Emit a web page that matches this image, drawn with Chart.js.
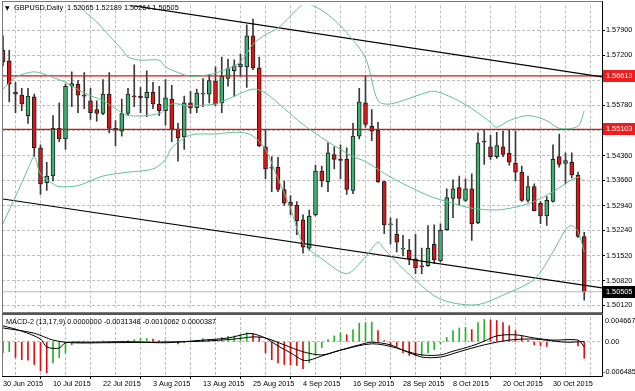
<!DOCTYPE html>
<html lang="en">
<head>
<meta charset="UTF-8">
<title>GBPUSD Daily</title>
<script src="https://cdn.jsdelivr.net/npm/chart.js"></script>
<style>
  html, body { margin: 0; padding: 0; background: #fff; }
  #wrap { position: relative; width: 635px; height: 391px; overflow: hidden; background: #fff; }
  #priceCanvas { position: absolute; left: 0; top: 0; }
  #macdCanvas { position: absolute; left: 0; top: 313px; }
</style>
</head>
<body>
<div id="wrap">
  <canvas id="priceCanvas" width="635" height="313"></canvas>
  <canvas id="macdCanvas" width="635" height="78"></canvas>
</div>
<script>
// bar index 0 = 30 Jun 2015, one bar per trading day
const dateBars = [0, 8, 16, 24, 32, 40, 48, 56, 64, 72, 80, 88];
const dateLabels = ['30 Jun 2015', '10 Jul 2015', '22 Jul 2015', '3 Aug 2015', '13 Aug 2015', '25 Aug 2015',
  '4 Sep 2015', '16 Sep 2015', '28 Sep 2015', '8 Oct 2015', '20 Oct 2015', '30 Oct 2015'];

const opens = [1.5734,1.5704,1.5615,1.5607,1.5549,1.5602,1.5458,1.5359,1.5378,1.5513,
  1.5483,1.5632,1.5638,1.5607,1.5591,1.5566,1.5555,1.5610,1.5513,1.5505,
  1.5555,1.5604,1.5604,1.5599,1.5615,1.5582,1.5563,1.5596,1.5511,1.5489,
  1.5585,1.5571,1.5610,1.5610,1.5646,1.5585,1.5654,1.5676,1.5687,1.5687,
  1.5775,1.5684,1.5461,1.5400,1.5403,1.5340,1.5304,1.5295,1.5254,1.5174,
  1.5268,1.5392,1.5362,1.5439,1.5425,1.5425,1.5337,1.5491,1.5585,1.5519,
  1.5508,1.5362,1.5240,1.5213,1.5171,1.5168,1.5144,1.5122,1.5124,1.5185,
  1.5138,1.5226,1.5315,1.5345,1.5309,1.5342,1.5246,1.5475,1.5461,1.5433,
  1.5461,1.5442,1.5414,1.5389,1.5309,1.5348,1.5301,1.5265,1.5306,1.5433,
  1.5414,1.5417,1.5381,1.52065];
const highs = [1.5775,1.5734,1.5643,1.5626,1.5626,1.5610,1.5466,1.5417,1.5549,1.5585,
  1.5638,1.5673,1.5648,1.5671,1.5626,1.5591,1.5651,1.5671,1.5535,1.5596,
  1.5626,1.5693,1.5629,1.5676,1.5643,1.5632,1.5651,1.5635,1.5527,1.5604,
  1.5618,1.5624,1.5654,1.5665,1.5687,1.5715,1.5709,1.5707,1.5723,1.5806,
  1.5822,1.5715,1.5508,1.5433,1.5431,1.5364,1.5323,1.5306,1.5268,1.5282,
  1.5409,1.5406,1.5472,1.5461,1.5466,1.5458,1.5527,1.5626,1.5660,1.5566,
  1.5530,1.5364,1.5260,1.5257,1.5210,1.5199,1.5213,1.5174,1.5238,1.5240,
  1.5243,1.5342,1.5367,1.5378,1.5370,1.5384,1.5500,1.5508,1.5494,1.5502,
  1.5505,1.5508,1.5505,1.5406,1.5378,1.5356,1.5306,1.5320,1.5466,1.5497,
  1.5444,1.5444,1.5389,1.52189];
const lows = [1.5690,1.5588,1.5557,1.5563,1.5527,1.5433,1.5326,1.5337,1.5364,1.5475,
  1.5453,1.5574,1.5557,1.5569,1.5538,1.5533,1.5552,1.5500,1.5464,1.5491,
  1.5549,1.5574,1.5557,1.5546,1.5569,1.5549,1.5522,1.5475,1.5420,1.5453,
  1.5555,1.5557,1.5574,1.5585,1.5577,1.5557,1.5632,1.5604,1.5660,1.5629,
  1.5679,1.5461,1.5370,1.5334,1.5334,1.5295,1.5268,1.5212,1.5160,1.5168,
  1.5265,1.5348,1.5334,1.5398,1.5370,1.5326,1.5328,1.5483,1.5516,1.5478,
  1.5360,1.5215,1.5185,1.5163,1.5152,1.5127,1.5102,1.5102,1.5122,1.5130,
  1.5135,1.5224,1.5260,1.5295,1.5306,1.5196,1.5243,1.5411,1.5425,1.5428,
  1.5433,1.5409,1.5364,1.5306,1.5304,1.5279,1.5243,1.5238,1.5304,1.5403,
  1.5356,1.5373,1.5204,1.50264];
const closes = [1.5701,1.5638,1.5610,1.5582,1.5604,1.5458,1.5356,1.5378,1.5513,1.5483,
  1.5632,1.5640,1.5607,1.5604,1.5557,1.5555,1.5610,1.5513,1.5508,1.5555,
  1.5610,1.5602,1.5599,1.5615,1.5582,1.5563,1.5599,1.5511,1.5486,1.5585,
  1.5571,1.5613,1.5611,1.5648,1.5582,1.5660,1.5682,1.5690,1.5695,1.5775,
  1.5684,1.5464,1.5398,1.5401,1.5340,1.5301,1.5295,1.5251,1.5177,1.5265,
  1.5392,1.5364,1.5444,1.5425,1.5422,1.5340,1.5491,1.5588,1.5524,1.5505,
  1.5362,1.5240,1.5241,1.5191,1.5172,1.5144,1.5119,1.5121,1.5174,1.5141,
  1.5224,1.5317,1.5342,1.5315,1.5342,1.5243,1.5472,1.5474,1.5433,1.5464,
  1.5439,1.5417,1.5389,1.5309,1.5348,1.5280,1.5265,1.5309,1.5425,1.5411,
  1.5422,1.5381,1.5207,1.50505];

// Bollinger bands, read at selected bars
const bbUpperBars = [10, 13, 15, 17, 19, 20, 22, 25, 26, 28, 30, 33, 36, 38, 40, 42, 44, 46, 48, 49, 51, 53, 55, 58, 60, 62, 67, 69, 72, 75, 78, 79, 81, 84, 87, 89, 92, 93];
const bbUpper = [1.5905, 1.5845, 1.5814, 1.5775, 1.5737, 1.5715, 1.5706, 1.5706, 1.5687, 1.5671, 1.5660, 1.5665, 1.5682, 1.5701, 1.5751, 1.5778, 1.5797, 1.5831, 1.5864, 1.5864, 1.5847, 1.5820, 1.5784, 1.5712, 1.5591, 1.5582, 1.5610, 1.5618, 1.5599, 1.5569, 1.5530, 1.5516, 1.5535, 1.5549, 1.5535, 1.5513, 1.5519, 1.5563];
const bbMidBars = [0, 2, 5, 8, 10, 13, 16, 18, 20, 25, 27, 30, 34, 36, 40, 42, 45, 48, 52, 56, 58, 62, 68, 72, 75, 79, 82, 85, 88, 92, 93];
const bbMid = [1.5624, 1.5657, 1.5673, 1.5657, 1.5643, 1.5613, 1.5591, 1.5569, 1.5549, 1.5555, 1.5582, 1.5577, 1.5582, 1.5596, 1.5624, 1.5613, 1.5569, 1.5524, 1.5475, 1.5433, 1.5419, 1.5375, 1.5323, 1.5301, 1.5287, 1.5282, 1.5290, 1.5306, 1.5334, 1.5375, 1.5362];
const bbLowBars = [0, 1, 2, 4, 5, 6, 8, 9, 12, 16, 20, 24, 26, 27, 30, 34, 38, 40, 42, 44, 46, 48, 51, 55, 58, 60, 61, 64, 69, 72, 76, 80, 85, 88, 90, 91, 92, 93];
const bbLow = [1.5243, 1.5282, 1.5320, 1.5398, 1.5433, 1.5384, 1.5356, 1.5348, 1.5351, 1.5378, 1.5389, 1.5398, 1.5425, 1.5458, 1.5494, 1.5497, 1.5502, 1.5491, 1.5453, 1.5370, 1.5287, 1.5188, 1.5144, 1.5102, 1.5149, 1.5191, 1.5171, 1.5116, 1.5039, 1.5019, 1.5014, 1.5041, 1.5086, 1.5163, 1.5226, 1.5238, 1.5221, 1.5163];

// channel lines (end points) and horizontal levels
const channelBars = [0, 96];
const channelTop = [1.5916, 1.5658];
const channelBottom = [1.5313, 1.5061];
const levels = [1.56613, 1.55103];
const bidPrice = 1.50505;
const priceTicks = [1.5012, 1.5082, 1.5152, 1.5224, 1.5294, 1.5366, 1.5436, 1.5507, 1.5578, 1.5649, 1.5720, 1.5790];

// MACD-2 (13,17,9)
const macdHist = [-0.0021,-0.0019,-0.0030,-0.0034,-0.0035,-0.0043,-0.0055,-0.0059,-0.0040,-0.0030,
  -0.0021,-0.0006,-0.0002,0.0001,-0.0001,-0.0001,0.0001,-0.0002,-0.0002,0.0001,
  0.0002,0.0004,0.0006,0.0006,0.0005,0.0002,0.0002,-0.0002,-0.0004,-0.0002,
  0.0001,0.0002,0.0006,0.0004,0.0004,0.0008,0.0010,0.0011,0.0013,0.0017,
  0.0015,0.0009,-0.0021,-0.0034,-0.0040,-0.0043,-0.0044,-0.0045,-0.0051,-0.0040,
  -0.0026,-0.0011,0.0004,0.0011,0.0017,0.0013,0.0023,0.0035,0.0036,0.0037,
  0.0021,0.0002,-0.0008,-0.0009,-0.0021,-0.0026,-0.0027,-0.0026,-0.0021,-0.0015,
  -0.0004,0.0008,0.0021,0.0026,0.0027,0.0023,0.0036,0.0042,0.0041,0.0040,
  0.0036,0.0030,0.0021,0.0011,0.0002,-0.0006,-0.0008,-0.0009,0.0002,0.0001,
  0.0002,0.0001,-0.0008,-0.0031348];
const macdBars = [0, 3, 6, 7, 9, 10, 14, 20, 26, 32, 36, 39, 40, 42, 44, 46, 48, 49, 51, 54, 57, 59, 62, 64, 67, 70, 72, 75, 77, 79, 82, 85, 88, 92, 93];
const macdLine = [0.0030, 0.0020, 0.0005, -0.0010, -0.0012, -0.0002, -0.0001, 0.0000, -0.0002, 0.0003, 0.0007, 0.0015, 0.0015, 0.0007, -0.0008, -0.0021, -0.0035, -0.0035, -0.0027, -0.0016, -0.0006, -0.0001, -0.0006, -0.0016, -0.0025, -0.0025, -0.0018, -0.0008, 0.0001, 0.0011, 0.0013, 0.0007, 0.0003, 0.0003, -0.0010062];
const signalBars = [0, 5, 8, 11, 16, 24, 32, 37, 40, 42, 45, 48, 51, 54, 59, 63, 67, 70, 73, 77, 81, 85, 90, 93];
const signalLine = [0.0026, 0.0016, 0.0003, -0.0002, -0.0002, -0.0001, 0.0001, 0.0005, 0.0009, 0.0007, -0.0006, -0.0019, -0.0025, -0.0016, -0.0004, -0.0012, -0.0029, -0.0029, -0.0019, -0.0006, 0.0003, 0.0005, -0.0001, 0.0000387];
const macdMax = 0.004667;
const macdMin = -0.006485;

const FONT = 'Liberation Sans';
const FS = 7.3;
const X_MIN = -0.16, X_MAX = 95.84;
const gridBars = [];
for (let b = 0; b <= 92; b += 4) gridBars.push(b);

const pts = (xs, ys) => xs.map((x, i) => ({ x: x, y: ys[i] }));
const idx = opens.map((_, i) => i);

function lineSet(data, color, width, tension) {
  return { type: 'line', data: data, borderColor: color, borderWidth: width, pointRadius: 0,
    tension: tension || 0, fill: false, order: 0 };
}

// overlay: title, level tags, frame
const priceDecor = {
  id: 'priceDecor',
  afterDraw(chart) {
    const ctx = chart.ctx, y = chart.scales.y;
    ctx.save();
    ctx.strokeStyle = '#7a7a7a';
    ctx.lineWidth = 1;
    ctx.strokeRect(2.5, 1.5, 600, 311);
    ctx.strokeStyle = '#000';
    ctx.beginPath(); ctx.moveTo(602.5, 1); ctx.lineTo(602.5, 313); ctx.stroke();

    ctx.fillStyle = '#000';
    ctx.font = '6px "DejaVu Sans"';
    ctx.textBaseline = 'middle';
    ctx.fillText('\u25BC', 5, 8);
    ctx.font = FS + 'px "' + FONT + '"';
    ctx.fillText('GBPUSD,Daily  1.52065 1.52189 1.50264 1.50505', 14, 8);

    const tag = (v, bg) => {
      const py = y.getPixelForValue(v);
      ctx.fillStyle = bg;
      ctx.fillRect(603, Math.round(py) - 6, 32, 12);
      ctx.fillStyle = '#fff';
      ctx.fillText(v.toFixed(5), 606, py);
    };
    levels.forEach(v => tag(v, '#ee1c1c'));
    tag(bidPrice, '#000');
    ctx.restore();
  }
};

new Chart(document.getElementById('priceCanvas'), {
  type: 'bar',
  data: {
    datasets: [
      { label: 'wick', data: idx.map(i => ({ x: i, y: [lows[i], highs[i]] })),
        backgroundColor: '#3a3a3a', barThickness: 1, grouped: false, order: 2 },
      { label: 'body', data: idx.map(i => ({ x: i, y: [opens[i], closes[i]] })),
        backgroundColor: idx.map(i => closes[i] >= opens[i] ? '#3cb371' : '#e01414'),
        borderColor: '#1e1e1e', borderWidth: 1, borderSkipped: false, barThickness: 4, minBarLength: 1,
        grouped: false, order: 1 },
      lineSet(pts(bbUpperBars, bbUpper), '#62c092', 1, 0.3),
      lineSet(pts(bbMidBars, bbMid), '#62c092', 1, 0.3),
      lineSet(pts(bbLowBars, bbLow), '#62c092', 1, 0.3),
      lineSet(pts(channelBars, channelTop), '#000', 1.2),
      lineSet(pts(channelBars, channelBottom), '#000', 1.2),
      lineSet(pts([-2, 98], [levels[0], levels[0]]), '#e01010', 1.2),
      lineSet(pts([-2, 98], [levels[1], levels[1]]), '#e01010', 1.2),
      lineSet(pts([-2, 98], [bidPrice, bidPrice]), '#b8b8b8', 1)
    ]
  },
  options: {
    responsive: false,
    animation: false,
    layout: { padding: { left: 2, top: 2, right: 0, bottom: 1 } },
    plugins: { legend: { display: false }, tooltip: { enabled: false } },
    scales: {
      x: {
        type: 'linear', min: X_MIN, max: X_MAX, offset: false,
        afterBuildTicks: a => { a.ticks = gridBars.map(v => ({ value: v })); },
        afterFit: a => { a.height = 0; },
        ticks: { display: false },
        grid: { color: '#bdbdbd', drawTicks: false },
        border: { display: false, dash: [3, 2] }
      },
      y: {
        position: 'right', min: 1.50056, max: 1.58610,
        afterBuildTicks: a => { a.ticks = priceTicks.map(v => ({ value: v })); },
        afterFit: a => { a.width = 33; },
        ticks: { callback: v => v.toFixed(5), color: '#000', padding: 1, font: { family: FONT, size: FS } },
        grid: { color: '#bdbdbd', tickLength: 3, tickColor: '#000' },
        border: { display: false, dash: [3, 2] }
      }
    }
  },
  plugins: [priceDecor]
});

// MACD pane overlay
const macdDecor = {
  id: 'macdDecor',
  afterDraw(chart) {
    const ctx = chart.ctx, a = chart.chartArea;
    ctx.save();
    ctx.strokeStyle = '#555';
    ctx.lineWidth = 2;
    ctx.beginPath(); ctx.moveTo(2, 1); ctx.lineTo(603, 1); ctx.stroke();
    ctx.lineWidth = 1;
    ctx.strokeStyle = '#7a7a7a';
    ctx.beginPath(); ctx.moveTo(2.5, 2); ctx.lineTo(2.5, a.bottom); ctx.stroke();
    ctx.strokeStyle = '#000';
    ctx.beginPath(); ctx.moveTo(602.5, 2); ctx.lineTo(602.5, a.bottom + 0.5); ctx.lineTo(2, a.bottom + 0.5); ctx.stroke();

    ctx.fillStyle = '#000';
    ctx.font = FS + 'px "' + FONT + '"';
    ctx.textBaseline = 'middle';
    ctx.fillText('MACD-2 (13,17,9) 0.0000000 -0.0031348 -0.0010062 0.0000387', 6, 9);
    const y = chart.scales.y;
    ctx.fillText(macdMax.toFixed(6), 605, y.getPixelForValue(macdMax) + 4);
    ctx.fillText('0.00', 605, y.getPixelForValue(0));
    ctx.fillText(macdMin.toFixed(6), 603, y.getPixelForValue(macdMin) - 4);
    ctx.restore();
  }
};

new Chart(document.getElementById('macdCanvas'), {
  type: 'bar',
  data: {
    datasets: [
      { label: 'hist', data: idx.map(i => ({ x: i, y: macdHist[i] })),
        backgroundColor: idx.map(i => macdHist[i] >= macdHist[Math.max(i - 1, 0)] ? '#27b327' : '#dd1010'),
        barThickness: 1, grouped: false, order: 1 },
      lineSet(pts(macdBars, macdLine), '#000', 1, 0.3),
      lineSet(pts(signalBars, signalLine), '#000', 1, 0.3)
    ]
  },
  options: {
    responsive: false,
    animation: false,
    layout: { padding: { left: 2, top: 4, right: 0, bottom: 0 } },
    plugins: { legend: { display: false }, tooltip: { enabled: false } },
    scales: {
      x: {
        type: 'linear', min: X_MIN, max: X_MAX, offset: false,
        afterBuildTicks: a => { a.ticks = gridBars.map(v => ({ value: v })); },
        afterFit: a => { a.height = 15; },
        ticks: {
          autoSkip: false, maxRotation: 0, align: 'start', padding: 1, color: '#000',
          font: { family: FONT, size: FS },
          callback: v => { const k = dateBars.indexOf(v); return k >= 0 ? dateLabels[k] : ''; }
        },
        grid: { color: '#bdbdbd', tickLength: 3,
          tickColor: c => (c.tick && dateBars.includes(c.tick.value)) ? '#000' : 'rgba(0,0,0,0)' },
        border: { display: false, dash: [3, 2] }
      },
      y: {
        position: 'right', min: macdMin, max: macdMax,
        afterBuildTicks: a => { a.ticks = [{ value: 0 }]; },
        afterFit: a => { a.width = 33; },
        ticks: { display: false },
        grid: { color: '#bdbdbd', drawTicks: false },
        border: { display: false, dash: [3, 2] }
      }
    }
  },
  plugins: [macdDecor]
});
</script>
</body>
</html>
